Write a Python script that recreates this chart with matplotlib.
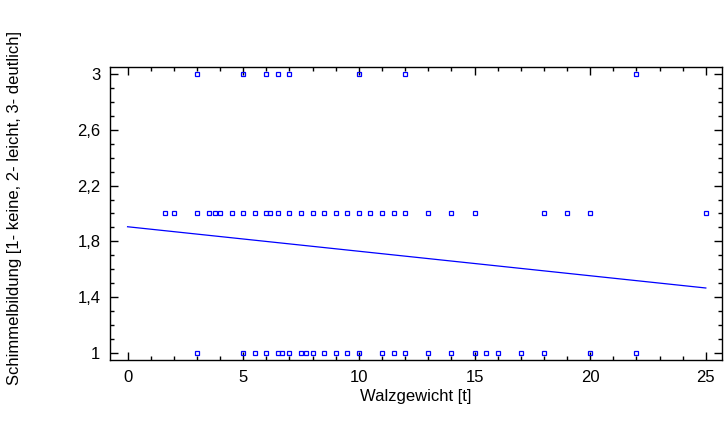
import numpy as np
import matplotlib
matplotlib.use("Agg")
import matplotlib.pyplot as plt
from matplotlib.ticker import MultipleLocator, FuncFormatter

plt.rcParams['font.family'] = ['Liberation Sans', 'DejaVu Sans']

# walzgewicht values per mould class
x_keine = [3, 5, 5.5, 6, 6.5, 6.66, 7, 7.5, 7.7, 8, 8.5, 9, 9.5, 10, 11, 11.5, 12,
           13, 14, 15, 15.5, 16, 17, 18, 20, 22]
x_leicht = [1.6, 2, 3, 3.5, 3.8, 4, 4.5, 5, 5.5, 6, 6.15, 6.5, 7, 7.5, 8, 8.5, 9,
            9.5, 10, 10.5, 11, 11.5, 12, 13, 14, 15, 18, 19, 20, 25]
x_deutlich = [3, 5, 6, 6.5, 7, 10, 12, 22]

# fitted line end points
fit_x = [0, 25]
fit_y = [1.905, 1.466]

fig = plt.figure(figsize=(7.26, 4.21), dpi=100)
ax = fig.add_axes([0.1515, 0.1449, 0.843, 0.696])

blue = '#0000ff'
for xs, level in [(x_keine, 1), (x_leicht, 2), (x_deutlich, 3)]:
    ax.plot(xs, [level] * len(xs), linestyle='none', marker='s', markersize=3,
            markerfacecolor='none', markeredgecolor=blue, markeredgewidth=0.9)

ax.plot(fit_x, fit_y, color=blue, linewidth=0.9)

ax.set_xlim(-0.76, 25.7)
ax.set_ylim(0.95, 3.05)
ax.xaxis.set_major_locator(MultipleLocator(5))
ax.xaxis.set_minor_locator(MultipleLocator(1))
ax.yaxis.set_minor_locator(MultipleLocator(0.1))
ax.set_yticks([1, 1.4, 1.8, 2.2, 2.6, 3])
ax.yaxis.set_major_formatter(FuncFormatter(
    lambda v, p: ('%g' % round(v, 1)).replace('.', ',')))

ax.tick_params(which='both', direction='in', top=True, right=True,
               labelsize=12, width=1, pad=7)
ax.tick_params(which='major', length=6)
ax.tick_params(which='minor', length=3)
for s in ax.spines.values():
    s.set_linewidth(1)

ax.set_xlabel('Walzgewicht [t]', fontsize=12, labelpad=3)
ax.set_ylabel('Schimmelbildung [1- keine, 2- leicht, 3- deutlich]', fontsize=12)
ax.yaxis.set_label_coords(-0.143, 0.52)

fig.savefig('out.png', dpi=100)
